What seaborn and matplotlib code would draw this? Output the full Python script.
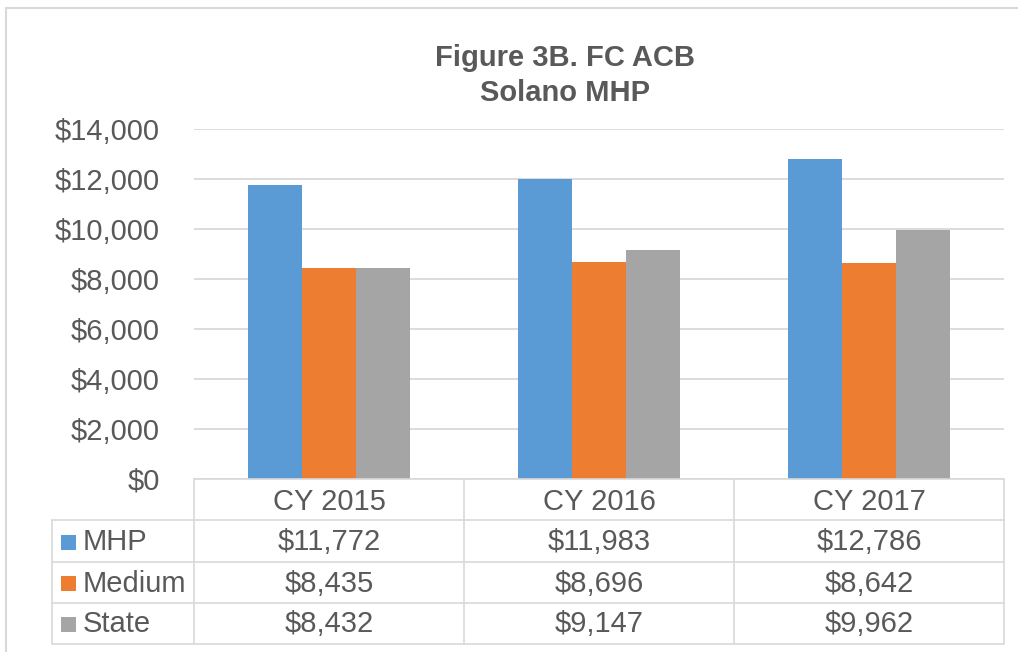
import matplotlib
matplotlib.use("Agg")
import matplotlib.pyplot as plt
import seaborn as sns
import pandas as pd
from matplotlib.patches import Rectangle
from matplotlib.lines import Line2D

categories = ["CY 2015", "CY 2016", "CY 2017"]
series_names = ["MHP", "Medium", "State"]
mhp = [11772, 11983, 12786]
medium = [8435, 8696, 8642]
state = [8432, 9147, 9962]
colors = ["#5B9BD5", "#ED7D31", "#A5A5A5"]
yticks = [0, 2000, 4000, 6000, 8000, 10000, 12000, 14000]

series_values = [mhp, medium, state]
df = pd.DataFrame({
    "Year": [c for s in series_values for c in categories],
    "Series": [n for n, s in zip(series_names, series_values) for _ in s],
    "Value": [v for s in series_values for v in s],
})

sns.set_style("white")
plt.rcParams["font.family"] = ["Liberation Sans", "DejaVu Sans"]
TXT = "#595959"
GRID = "#D9D9D9"

fig = plt.figure(figsize=(10.18, 6.52), dpi=100)
W, H = 1018, 652
ax = fig.add_axes([194 / W, (H - 479) / H, (1004 - 194) / W, (479 - 129) / H])

sns.barplot(data=df, x="Year", y="Value", hue="Series", hue_order=series_names,
            order=categories, palette=colors, width=0.6, gap=0, saturation=1,
            ax=ax, legend=False, edgecolor="none")

ax.set_xlim(-0.5, 2.5)
ax.set_ylim(0, 14000)
ax.set_yticks(yticks)
ax.set_yticklabels([f"${v:,.0f}" for v in yticks], fontsize=21, color=TXT)
ax.tick_params(axis="y", length=0, pad=24.5)
ax.set_xticks([])
ax.set_xlabel("")
ax.set_ylabel("")
for sp in ax.spines.values():
    sp.set_visible(False)
ax.yaxis.grid(True, color=GRID, linewidth=1.3)
ax.set_axisbelow(True)

# Title
fig.text(565 / W, 1 - 58 / H, "Figure 3B. FC ACB", ha="center", va="center",
         fontsize=21, fontweight="bold", color=TXT)
fig.text(565 / W, 1 - 93 / H, "Solano MHP", ha="center", va="center",
         fontsize=21, fontweight="bold", color=TXT)

# Data table below the axes (figure pixel coordinates)
def fx(px):
    return px / W

def fy(py):
    return 1 - py / H

col_edges = [194, 464, 734, 1004]
row_edges = [479, 520, 562, 603, 644]
left = 52
lw = 1.2
# horizontal lines
fig.add_artist(Line2D([fx(194), fx(1004)], [fy(479), fy(479)], color=GRID, lw=lw))
for r in row_edges[1:]:
    fig.add_artist(Line2D([fx(left), fx(1004)], [fy(r), fy(r)], color=GRID, lw=lw))
# vertical lines
fig.add_artist(Line2D([fx(left), fx(left)], [fy(520), fy(644)], color=GRID, lw=lw))
for c in col_edges:
    fig.add_artist(Line2D([fx(c), fx(c)], [fy(479), fy(644)], color=GRID, lw=lw))

# header
for i, cat in enumerate(categories):
    cx = (col_edges[i] + col_edges[i + 1]) / 2
    fig.text(fx(cx), fy((row_edges[0] + row_edges[1]) / 2 + 2), cat, ha="center",
             va="center", fontsize=21, color=TXT)
# rows
for j, (name, vals, col) in enumerate(zip(series_names, series_values, colors)):
    cy = (row_edges[j + 1] + row_edges[j + 2]) / 2 + 1
    fig.add_artist(Rectangle((fx(61), fy(cy + 7.5)), 15 / W, 15 / H,
                             facecolor=col, edgecolor="none"))
    fig.text(fx(83), fy(cy), name, ha="left", va="center", fontsize=21, color=TXT)
    for i, v in enumerate(vals):
        cx = (col_edges[i] + col_edges[i + 1]) / 2
        fig.text(fx(cx), fy(cy), f"${v:,.0f}", ha="center", va="center",
                 fontsize=21, color=TXT)

# outer chart border (top and left visible)
fig.add_artist(Line2D([fx(6), fx(1018)], [fy(8), fy(8)], color=GRID, lw=1.5))
fig.add_artist(Line2D([fx(6), fx(6)], [fy(8), fy(652)], color=GRID, lw=1.5))

fig.savefig("out.png", dpi=100)
